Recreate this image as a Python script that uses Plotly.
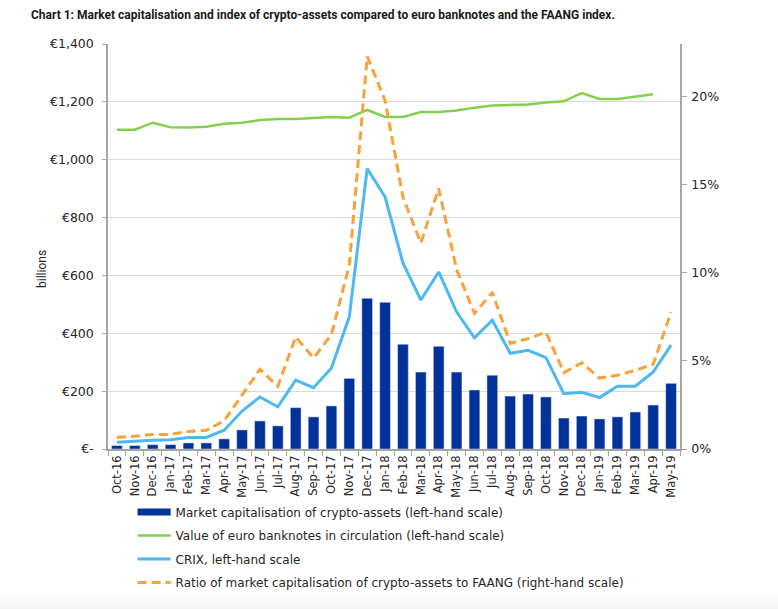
import plotly.graph_objects as go

months = [
    "Oct-16", "Nov-16", "Dec-16", "Jan-17", "Feb-17", "Mar-17", "Apr-17", "May-17",
    "Jun-17", "Jul-17", "Aug-17", "Sep-17", "Oct-17", "Nov-17", "Dec-17", "Jan-18",
    "Feb-18", "Mar-18", "Apr-18", "May-18", "Jun-18", "Jul-18", "Aug-18", "Sep-18",
    "Oct-18", "Nov-18", "Dec-18", "Jan-19", "Feb-19", "Mar-19", "Apr-19", "May-19",
]
market_cap = [
    12, 12, 15, 15, 21, 21, 35, 66, 97, 80, 143, 111, 149, 244, 521, 507,
    362, 266, 355, 266, 204, 255, 183, 190, 180, 107, 114, 104, 111, 128, 152, 227,
]
banknotes = [
    1104, 1104, 1128, 1112, 1111, 1114, 1124, 1128, 1137, 1141, 1141, 1145, 1148, 1145, 1172, 1148,
    1148, 1165, 1165, 1170, 1180, 1187, 1190, 1191, 1198, 1202, 1230, 1210, 1210, 1218, 1226, None,
]
crix = [
    23, 27, 30, 32, 40, 40, 65, 131, 180, 146, 238, 212, 280, 457, 969, 872,
    643, 515, 612, 474, 384, 445, 331, 341, 316, 191, 196, 178, 217, 217, 266, 359,
]
faang_ratio = [
    0.66, 0.72, 0.83, 0.83, 1.0, 1.06, 1.6, 3.05, 4.53, 3.56, 6.36, 5.17, 6.5, 10.45, 22.3, 19.8,
    14.3, 11.7, 14.8, 10.2, 7.7, 8.9, 6.0, 6.27, 6.63, 4.34, 4.89, 4.03, 4.19, 4.47, 4.81, 7.78,
]
left_ticks = [0, 200, 400, 600, 800, 1000, 1200, 1400]
left_labels = ["€-", "€200", "€400", "€600", "€800", "€1,000", "€1,200", "€1,400"]
right_ticks = [0, 5, 10, 15, 20]
right_labels = ["0%", "5%", "10%", "15%", "20%"]

TEXT = "#262626"
AXIS = "#a6a6a6"
GRID = "#d9d9d9"
BLUE = "#003299"

fig = go.Figure()
fig.add_trace(go.Bar(
    x=months, y=market_cap, name="Market capitalisation of crypto-assets",
    marker=dict(color=BLUE), showlegend=False,
))
# bar legend symbols are tiny squares, so a thick empty line stands in for the key
fig.add_trace(go.Scatter(
    x=[None], y=[None], mode="lines", name="Market capitalisation of crypto-assets (left-hand scale)",
    line=dict(color=BLUE, width=7), legendgroup="a",
))
fig.add_trace(go.Scatter(
    x=months, y=banknotes, mode="lines", name="Value of euro banknotes in circulation (left-hand scale)",
    line=dict(color="#85cf4f", width=2.5), legendgroup="b",
))
fig.add_trace(go.Scatter(
    x=months, y=crix, mode="lines", name="CRIX, left-hand scale",
    line=dict(color="#4db8f2", width=3), legendgroup="c",
))
fig.add_trace(go.Scatter(
    x=months, y=faang_ratio, mode="lines", yaxis="y2",
    name="Ratio of market capitalisation of crypto-assets to FAANG (right-hand scale)",
    line=dict(color="#f9a23c", width=3, dash="9px,5px"), legendgroup="d",
))

# the page body adds 8px around the figure
fig.update_layout(
    width=770, height=601,
    margin=dict(l=100, r=98, t=36, b=160, autoexpand=False),
    paper_bgcolor="rgba(0,0,0,0)", plot_bgcolor="white",
    font=dict(family="DejaVu Sans", size=12, color=TEXT),
    bargap=0.4,
    showlegend=True,
    legend=dict(
        x=0.043, y=-0.12, xanchor="left", yanchor="top",
        bgcolor="rgba(0,0,0,0)", itemwidth=33, tracegroupgap=4.5,
        font=dict(family="DejaVu Sans", size=12, color=TEXT),
        traceorder="grouped",
    ),
    xaxis=dict(
        type="category", categoryorder="array", categoryarray=months,
        tickangle=-90, tickson="boundaries", ticks="outside", ticklen=5,
        tickcolor=AXIS, showline=True, linecolor=AXIS, linewidth=1.5,
        showgrid=False, tickfont=dict(size=11.5, color=TEXT),
    ),
    yaxis=dict(
        range=[0, 1400], tickvals=left_ticks, ticktext=left_labels,
        ticks="outside", ticklen=4, tickcolor=AXIS, showline=True, linecolor=AXIS,
        linewidth=1.5, gridcolor=GRID, gridwidth=1, zeroline=False,
        ticklabelstandoff=6, tickfont=dict(size=12.5, color=TEXT),
    ),
    yaxis2=dict(
        range=[0, 23], overlaying="y", side="right", tickvals=right_ticks,
        ticktext=right_labels, ticks="outside", ticklen=5, tickcolor=AXIS,
        showline=True, linecolor=AXIS, linewidth=1.5, showgrid=False, zeroline=False,
        ticklabelstandoff=2, tickfont=dict(size=12.5, color=TEXT),
    ),
    annotations=[
        dict(
            text="<b>Chart 1: Market capitalisation and index of crypto-assets compared to euro banknotes and the FAANG index.</b>",
            xref="paper", yref="paper", x=-0.1385, y=1.0 + 29 / 405, xanchor="left", yanchor="middle",
            showarrow=False, font=dict(family="Roboto", size=12, color="#1a1a1a"),
        ),
        dict(
            text="billions", textangle=-90, xref="paper", yref="paper", x=-0.115, y=0.445,
            xanchor="center", yanchor="middle", showarrow=False,
            font=dict(family="Roboto", size=12, color=TEXT),
        ),
    ],
)

# faint grey fade along the bottom edge of the page
page_fade = (
    "document.documentElement.style.height = '609px';"
    "document.body.style.background = 'linear-gradient(to bottom, #fff 590px, #f3f3f3 609px) no-repeat';"
)
fig.write_html("out.html", post_script=page_fade)
